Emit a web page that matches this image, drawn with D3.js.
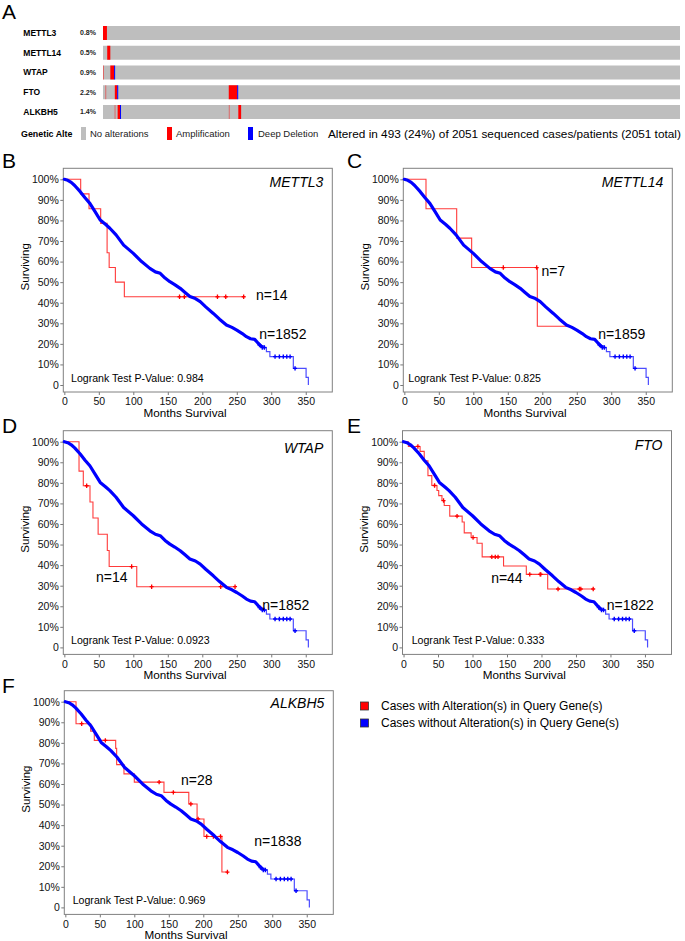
<!DOCTYPE html>
<html><head><meta charset="utf-8">
<script src="https://cdn.jsdelivr.net/npm/d3@7"></script>
<style>body{margin:0;background:#fff}svg{display:block;font-family:"Liberation Sans",Arial,sans-serif}</style>
</head><body><svg id="c" width="685" height="941"></svg>
<script>
// ---------- Panel A data ----------
const genes = ["METTL3","METTL14","WTAP","FTO","ALKBH5"];
const genePct = ["0.8%","0.5%","0.9%","2.2%","1.4%"];
const totalCases = 2051;
// [gene, startCase, endCase, type]
const alterations = [
  ["METTL3",0,14,"amp"],
  ["METTL14",15,26,"amp"],
  ["WTAP",0,1.5,"ampThin"],["WTAP",26,39.5,"amp"],["WTAP",39.5,41.5,"del"],
  ["FTO",8,9.5,"ampThin"],["FTO",42,50.5,"amp"],["FTO",50.5,53,"del"],["FTO",447,477,"amp"],["FTO",477,479.5,"del"],
  ["ALKBH5",41,42.5,"ampThin"],["ALKBH5",52,60.5,"amp"],["ALKBH5",60.5,63.5,"del"],["ALKBH5",447,448.5,"ampThin"],["ALKBH5",481,491,"amp"]
];
const legendA = [["No alterations","#bebebe"],["Amplification","#ff0000"],["Deep Deletion","#0000ff"]];
const alteredText = "Altered in 493 (24%) of 2051 sequenced cases/patients (2051 total)";

// ---------- KM data ----------
const monthTicks = [0,50,100,150,200,250,300,350];
const pctTicks = [0,10,20,30,40,50,60,70,80,90,100];
const blueDense = [[0,100],[5,99.5],[10,98.5],[15,97],[23,94],[30,91],[37,88.3],[45,84],[52,80.2],[60,78],[66,76.2],[75,73],[86,68],[100,64],[112,60],[124,56.7],[132,55],[139,54.3],[146,52],[153,50.2],[160,48.8],[168,47],[175,45],[182,43],[190,42],[197,40.5],[205,38],[216,34.8],[225,32],[235,29.2],[243,28],[250,26.7],[258,25],[264,23.5],[270,22.5],[276,22.2],[281,20.3],[285,19]];
const blueTail = [[285,19],[289,18.2],[293,16.2],[298,13.8],[332,8.1],[350.5,3.7],[353.8,0]];
const blueCensor = [[283,19.4],[287,18.2],[290,18.2],[305.5,13.8],[311.8,13.8],[317.5,13.8],[322.5,13.8],[327.3,13.8],[334.5,8.1]];

const redMETTL3 = [[0,100],[23.7,92.9],[35.8,85.7],[52.7,78.6],[62,64.3],[65,57.1],[74,50],[87,42.9],[260,42.9]];
const censorMETTL3 = [[167,42.9],[174,42.9],[222,42.9],[234,42.9],[260,42.9]];
const redMETTL14 = [[0,100],[31.4,85.7],[75.9,71.4],[97.6,57.1],[192.8,28.6],[240,28.6]];
const censorMETTL14 = [[143.5,57.1],[191.9,57.1]];
const redWTAP = [[0,100],[21.3,85.7],[27.5,78.6],[37.2,70.7],[41.5,62.9],[49,55],[62.3,47.1],[65,39.3],[105,29.5],[247.5,29.5]];
const censorWTAP = [[32.4,78.6],[97.6,39.3],[126.6,29.5],[226.7,29.5],[247.5,29.5]];
const redFTO = [[0,100],[7,97.7],[24,95.3],[30,90.7],[35.4,83.5],[41,78.7],[48.5,76.3],[51,73.8],[55.7,71.4],[59,69],[67,63.8],[85,61],[88,55.7],[98,53.4],[106.6,50.6],[114,44],[145,39.6],[178,35.5],[209,28.4],[275,28.4]];
const censorFTO = [[20.8,97.7],[45,78.7],[58,71.4],[77.6,63.8],[100.8,53.4],[128,44],[133,44],[137,44],[183,35.5],[198,35.5],[199,35.5],[224,28.4],[255,28.4],[257,28.4],[275,28.4]];
const redALKBH5 = [[0,100],[15.5,89.3],[36.7,85.7],[42,81.2],[73,77.3],[74.4,69.4],[85,64.9],[100,60.9],[143,55.9],[179,50.3],[191,43],[201,34.5],[227,17.2],[235,17.2]];
const censorALKBH5 = [[23.7,89.3],[58,81.2],[136,60.9],[156.6,55.9],[182,50.3],[192.5,43],[205,34.5],[214.6,34.5],[225,34.5],[235,17.2]];

const panelGenes = ["METTL3","METTL14","WTAP","FTO","ALKBH5"];
const panelLetters = ["B","C","D","E","F"];
const nAltered = ["n=14","n=7","n=14","n=44","n=28"];
const nUnaltered = ["n=1852","n=1859","n=1852","n=1822","n=1838"];
const pValues = ["0.984","0.825","0.0923","0.333","0.969"];
const redSeries = [redMETTL3,redMETTL14,redWTAP,redFTO,redALKBH5];
const redCensors = [censorMETTL3,censorMETTL14,censorWTAP,censorFTO,censorALKBH5];
const legendKM = [["Cases with Alteration(s) in Query Gene(s)","#ff0000"],["Cases without Alteration(s) in Query Gene(s)","#0000ff"]];

// ---------- layout (positions, not data) ----------
const layout = [
  {left:63.3, top:168.3, lx:2, ly:167.7, geneDy:18.6, pDx:7.7, nA:[278,43.8], nU:[282.7,24.6]},
  {left:403.3, top:168.3, lx:347, ly:167.7, geneDy:18.6, pDx:5, nA:[198.7,55.4], nU:[281,24.6]},
  {left:63.3, top:430.7, lx:2, ly:433.3, geneDy:22, pDx:7.7, nA:[46,34.2], nU:[287,20.6]},
  {left:402.5, top:430.7, lx:347, ly:433.3, geneDy:19.3, pDx:9.2, nA:[127,33.8], nU:[294.7,20.5]},
  {left:64.3, top:690.7, lx:2, ly:693.3, geneDy:17.6, pDx:8.4, nA:[167.7,61.7], nU:[274,32.1]}
];
const PW = 269, PH = 223.7;

const svg = d3.select("#c");

// ---------- Panel A ----------
svg.append("text").attr("x",2).attr("y",19.3).attr("font-size",21).text("A");
const xa = d3.scaleLinear().domain([0,totalCases]).range([103,680]);
const ya = d3.scaleBand().domain(genes).range([26,119]).paddingInner(0.291);
const gA = svg.append("g");
gA.selectAll("rect.bg").data(genes).join("rect").attr("class","bg")
  .attr("x",xa(0)).attr("width",xa(totalCases)-xa(0))
  .attr("y",d=>ya(d)).attr("height",ya.bandwidth()).attr("fill","#bebebe");
const colA = {amp:"#ff0000",ampThin:"#ff0000",del:"#0000ff"};
gA.selectAll("rect.alt").data(alterations).join("rect").attr("class","alt")
  .attr("x",d=>xa(d[1])).attr("width",d=>Math.max(1,xa(d[2])-xa(d[1])))
  .attr("y",d=>ya(d[0])).attr("height",ya.bandwidth())
  .attr("fill",d=>colA[d[3]]).attr("opacity",d=>d[3]==="ampThin"?0.45:1);
gA.selectAll("text.gn").data(genes).join("text").attr("class","gn")
  .attr("x",23.3).attr("y",d=>ya(d)+ya.bandwidth()/2).attr("dy","0.35em")
  .attr("font-size",8.5).attr("font-weight","bold").text(d=>d);
gA.selectAll("text.pc").data(genes).join("text").attr("class","pc")
  .attr("x",80).attr("y",d=>ya(d)+ya.bandwidth()/2).attr("dy","0.35em")
  .attr("font-size",7).attr("font-weight","bold").attr("fill","#222").text((d,i)=>genePct[i]);
// legend row A
const lyA = 133.5;
svg.append("text").attr("x",21).attr("y",lyA).attr("dy","0.35em").attr("font-size",8.9).attr("font-weight","bold").text("Genetic Alte");
const legXs = [[81,90],[167,176],[248,258]];
legendA.forEach((d,i)=>{
  svg.append("rect").attr("x",legXs[i][0]).attr("y",127).attr("width",5).attr("height",13).attr("fill",d[1]);
  svg.append("text").attr("x",legXs[i][1]).attr("y",lyA).attr("dy","0.35em").attr("font-size",9.5).attr("fill","#222").text(d[0]);
});
svg.append("text").attr("x",328).attr("y",lyA).attr("dy","0.35em").attr("font-size",11.8).text(alteredText);

// ---------- KM panels ----------
const plus = "M-2,0H2M0,-2.2V2.2";
panelGenes.forEach((gene,i)=>{
  const L = layout[i];
  const x = d3.scaleLinear().domain([-1.5,388.5]).range([L.left,L.left+PW]);
  const y = d3.scaleLinear().domain([-3.4,105.35]).range([L.top+PH,L.top]);
  const g = svg.append("g");
  g.append("text").attr("x",L.lx).attr("y",L.ly).attr("font-size",21).text(panelLetters[i]);
  // axes
  const ax = g.append("g").attr("transform",`translate(${L.left},0)`)
    .call(d3.axisLeft(y).tickValues(pctTicks).tickSize(3).tickPadding(1.5).tickFormat(d=>d===0?"0":d+"%"));
  const bx = g.append("g").attr("transform",`translate(0,${L.top+PH})`)
    .call(d3.axisBottom(x).tickValues(monthTicks).tickSize(3).tickPadding(3));
  [ax,bx].forEach(a=>{
    a.select(".domain").remove();
    a.selectAll("line").attr("stroke","#777");
    a.selectAll("text").attr("font-size",10.5).attr("font-family","Liberation Sans, Arial, sans-serif").attr("fill","#111");
  });
  g.append("rect").attr("x",L.left).attr("y",L.top).attr("width",PW).attr("height",PH)
    .attr("fill","none").attr("stroke","#808080").attr("stroke-width",1);
  // labels
  g.append("text").attr("x",x(175)).attr("y",L.top+PH+25).attr("text-anchor","middle").attr("font-size",11.7).text("Months Survival");
  g.append("text").attr("transform",`translate(${L.left-38.5},${y(57.5)}) rotate(-90)`)
    .attr("text-anchor","middle").attr("dy","0.35em").attr("font-size",11.5).text("Surviving");
  g.append("text").attr("x",L.left+PW-9).attr("y",L.top+L.geneDy).attr("text-anchor","end")
    .attr("font-size",14).attr("font-style","italic").text(gene);
  g.append("text").attr("x",L.left+L.pDx).attr("y",L.top+PH-14).attr("dy","0.35em")
    .attr("font-size",10.6).text("Logrank Test P-Value: "+pValues[i]);
  // red curve
  const stepLine = d3.line().x(d=>x(d[0])).y(d=>y(d[1])).curve(d3.curveStepAfter);
  g.append("path").attr("d",stepLine(redSeries[i])).attr("fill","none")
    .attr("stroke","#ff3b3b").attr("stroke-width",1.1);
  g.selectAll("path.rc").data(redCensors[i]).join("path").attr("class","rc")
    .attr("transform",d=>`translate(${x(d[0])},${y(d[1])})`).attr("d",plus)
    .attr("stroke","#ff0000").attr("stroke-width",1.3);
  // blue curve
  const lin = d3.line().x(d=>x(d[0])).y(d=>y(d[1]));
  g.append("path").attr("d",stepLine(blueTail)).attr("fill","none")
    .attr("stroke","#4d4dff").attr("stroke-width",1.2);
  g.append("path").attr("d",lin(blueDense)).attr("fill","none")
    .attr("stroke","#0000ff").attr("stroke-width",3.2).attr("stroke-linecap","round").attr("stroke-linejoin","round");
  g.selectAll("path.bc").data(blueCensor).join("path").attr("class","bc")
    .attr("transform",d=>`translate(${x(d[0])},${y(d[1])})`).attr("d",plus)
    .attr("stroke","#0000ff").attr("stroke-width",1.4);
  // n labels
  g.append("text").attr("x",x(L.nA[0])).attr("y",y(L.nA[1])).attr("dy","0.35em").attr("font-size",14).text(nAltered[i]);
  g.append("text").attr("x",x(L.nU[0])).attr("y",y(L.nU[1])).attr("dy","0.35em").attr("font-size",14).text(nUnaltered[i]);
});

// ---------- KM legend ----------
legendKM.forEach((d,i)=>{
  svg.append("rect").attr("x",360.5).attr("y",702+i*17).attr("width",8).attr("height",8)
    .attr("fill",d[1]).attr("stroke","#333").attr("stroke-width",0.8);
  svg.append("text").attr("x",381).attr("y",706+i*17).attr("dy","0.35em").attr("font-size",12).text(d[0]);
});
</script></body></html>
